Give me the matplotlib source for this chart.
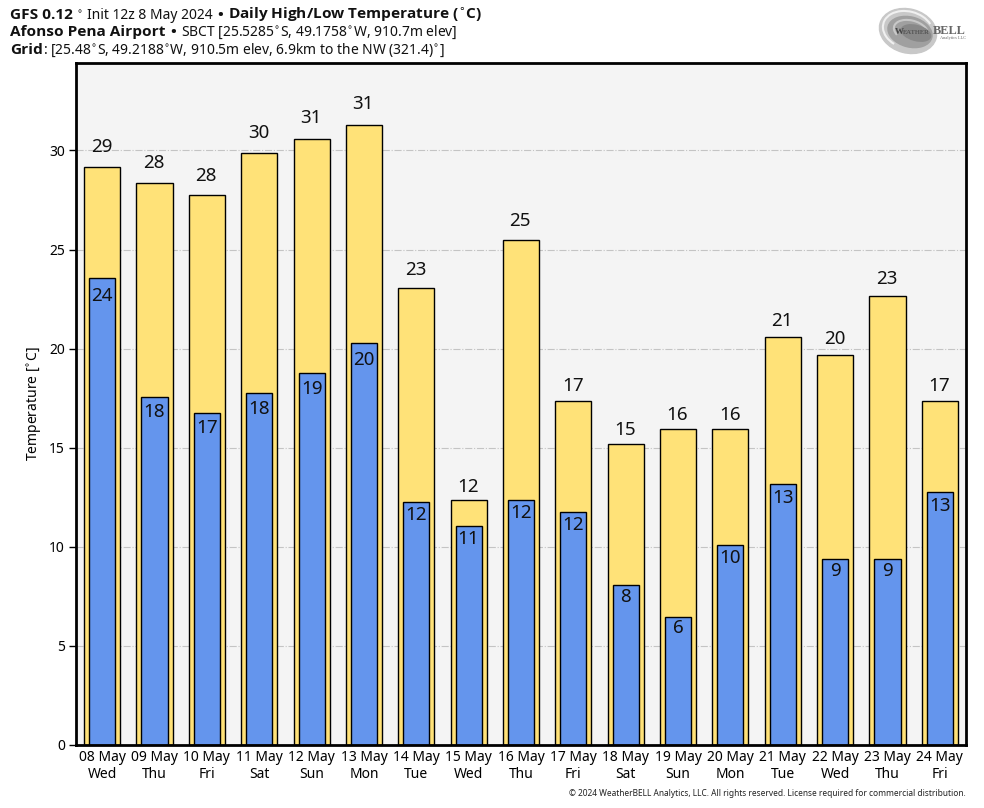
import numpy as np
import matplotlib
matplotlib.use("Agg")
from matplotlib import pyplot as plt
from matplotlib.patches import Ellipse, Arc

plt.rcParams['font.family'] = ['Noto Sans', 'DejaVu Sans']

days = ['08 May', '09 May', '10 May', '11 May', '12 May', '13 May', '14 May', '15 May', '16 May',
        '17 May', '18 May', '19 May', '20 May', '21 May', '22 May', '23 May', '24 May']
weekdays = ['Wed', 'Thu', 'Fri', 'Sat', 'Sun', 'Mon', 'Tue', 'Wed', 'Thu',
            'Fri', 'Sat', 'Sun', 'Mon', 'Tue', 'Wed', 'Thu', 'Fri']
highs = [29.16, 28.35, 27.75, 29.87, 30.57, 31.28, 23.06, 12.36, 25.48,
         17.36, 15.19, 15.94, 15.94, 20.58, 19.68, 22.65, 17.36]
lows = [23.56, 17.56, 16.75, 17.76, 18.77, 20.28, 12.26, 11.05, 12.36,
        11.76, 8.07, 6.46, 10.09, 13.17, 9.38, 9.38, 12.76]
yticks = [0, 5, 10, 15, 20, 25, 30]

W, H = 984, 808
fig = plt.figure(figsize=(W / 100, H / 100), dpi=100)
ax = fig.add_axes([76 / W, 1 - 745 / H, 890 / W, 682 / H])
ax.set_facecolor('#f4f4f4')

x = np.arange(len(days))
ax.bar(x, highs, width=0.69, color='#ffe278', edgecolor='black', linewidth=1, zorder=3)
ax.bar(x, lows, width=0.5, color='#6495ed', edgecolor='black', linewidth=1, zorder=4)

# the label gap grows with the value in the original
for i in x:
    gap_hi = (0.42 * highs[i] - 1.2) * 0.72
    gap_lo = (0.40 * lows[i] - 0.5) * 0.72
    ax.annotate(f'{highs[i]:.0f}', (i, highs[i]), xytext=(-0.5, gap_hi), textcoords='offset points',
                ha='center', va='bottom', fontsize=13.5, color='#111111', zorder=5)
    ax.annotate(f'{lows[i]:.0f}', (i, lows[i]), xytext=(0, -gap_lo), textcoords='offset points',
                ha='center', va='top', fontsize=13.5, color='#111111', zorder=5)

ax.set_xlim(-0.5, 16.5)
ax.set_ylim(0, 682 / 19.82)
ax.set_xticks(x)
ax.set_xticklabels([d + '\n' + w for d, w in zip(days, weekdays)], fontsize=10, linespacing=1.2)
ax.set_yticks(yticks)
ax.tick_params(axis='x', length=0, pad=3.5)
ax.tick_params(axis='y', length=5, width=1, labelsize=10, pad=3)
ax.set_ylabel('Temperature [$^{\\circ}$C]', fontsize=10, labelpad=3.5)
ax.grid(axis='y', color='#c4c4c4', linestyle='-.', linewidth=0.8, zorder=1)
ax.set_axisbelow(True)
for s in ax.spines.values():
    s.set_linewidth(2)
    s.set_zorder(6)


def header(y, parts):
    # bold and normal pieces one after the other on one line, each with its own gap after it
    px = 10
    for txt, bold, gap in parts:
        if bold:
            t = fig.text(px / W, 1 - y / H, txt, fontsize=11.1, family='Open Sans', fontweight='bold', color='#111111')
        else:
            t = fig.text(px / W, 1 - y / H, txt, fontsize=10, color='#111111')
        px = t.get_window_extent(fig.canvas.get_renderer()).x1 + gap


header(19, [('GFS 0.12', True, 3), ('$^{\\circ}$', False, 4), ('Init 12z 8 May 2024', False, 5), ('\u2022', True, 5),
            ('Daily High/Low Temperature ($^{\\circ}$C)', True, 0)])
header(36, [('Afonso Pena Airport', True, 5), ('\u2022', True, 5),
            ('SBCT [25.5285$^{\\circ}$S, 49.1758$^{\\circ}$W, 910.7m elev]', False, 0)])
header(54, [('Grid', True, 0), (': [25.48$^{\\circ}$S, 49.2188$^{\\circ}$W, 910.5m elev, 6.9km to the NW (321.4)$^{\\circ}$]', False, 0)])

fig.text(966 / W, 1 - 794 / H, '\u00a9 2024 WeatherBELL Analytics, LLC. All rights reserved. License required for commercial distribution.',
         fontsize=6, ha='right', va='center', color='#222222')

# logo, drawn in pixel coordinates of the figure
logo = fig.add_axes([0, 0, 1, 1], zorder=10)
logo.set_xlim(0, W)
logo.set_ylim(H, 0)
logo.axis('off')
logo.add_patch(Ellipse((908, 31), 58, 44, angle=15, color='#c8c8c8'))
logo.add_patch(Arc((908, 30), 51, 37, angle=15, theta1=120, theta2=330, color='#f0f0f0', lw=1.5))
logo.add_patch(Ellipse((910, 32), 45, 30, angle=15, color='#a0a0a0'))
logo.add_patch(Arc((911, 31), 35, 21, angle=15, theta1=150, theta2=350, color='#c8c8c8', lw=1.5))
logo.add_patch(Ellipse((916, 33), 30, 15, angle=15, color='#888888'))
logo.text(895, 34, 'W', family='Liberation Serif', fontsize=6.5, fontweight='bold', color='#444444', va='baseline')
logo.text(903, 34, 'EATHER', family='Liberation Serif', fontsize=4.8, fontweight='bold', color='#555555', va='baseline')
logo.text(966, 34, 'BELL', family='Liberation Serif', fontsize=8.8, fontweight='bold', color='#666666',
          va='baseline', ha='right')
logo.text(966, 39, 'Analytics LLC', family='Liberation Serif', fontsize=3.2, color='#666666', va='baseline', ha='right')

fig.savefig('out.png', dpi=100)
